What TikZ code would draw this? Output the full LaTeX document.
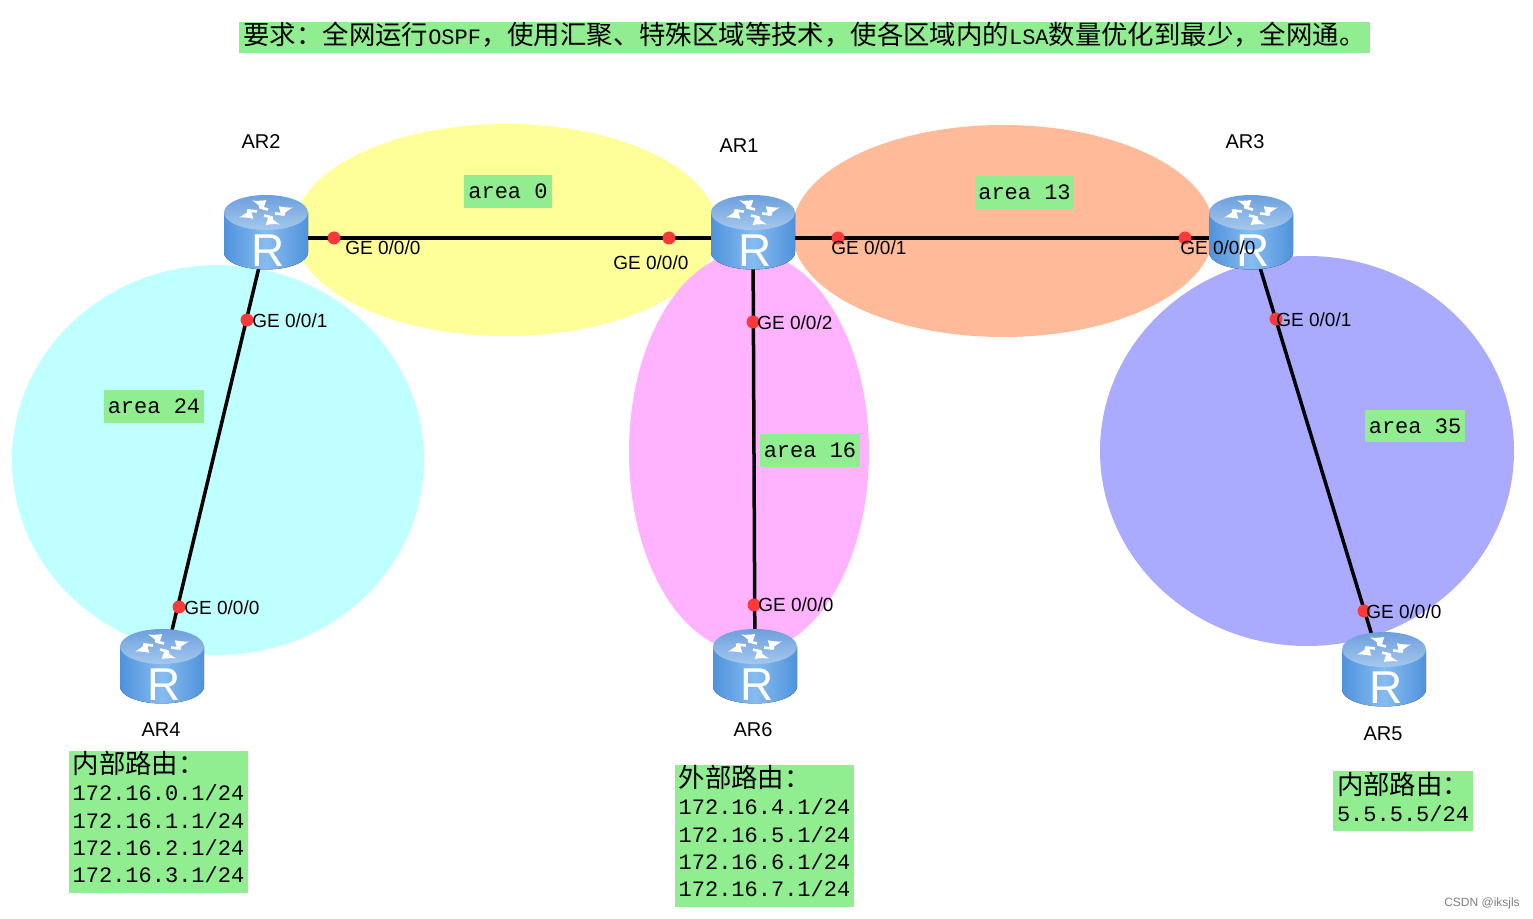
\documentclass[tikz,border=0pt]{standalone}
\usepackage{fontspec}
\setmainfont{Liberation Sans}
\newfontfamily\cnfont{Noto Sans CJK SC}
\newfontfamily\codefont{Liberation Mono}
\newcommand{\cntext}[1]{{\cnfont\fontsize{13.2}{15}\selectfont #1}}
\tikzset{
    routerbox/.style={minimum width=42pt,minimum height=38pt,inner sep=0pt},
    linkline/.style={black,line width=1.75pt},
    reddot/.style={circle,fill=dotred,minimum size=6.5pt,inner sep=0pt},
    portlabel/.style={font=\fontsize{9.5}{11}\selectfont,inner sep=0pt,anchor=west},
    routername/.style={font=\fontsize{10}{12}\selectfont,inner sep=0pt},
    notebox/.style={fill=notegreen,inner sep=0pt,font=\fontsize{11}{13.6}\selectfont\codefont},
    iconarrow/.style={white,line width=1.3pt,line join=round,-latex}
}
\definecolor{notegreen}{HTML}{90EE90}
\definecolor{areayellow}{HTML}{FFFF99}
\definecolor{areaorange}{HTML}{FFBB99}
\definecolor{areacyan}{HTML}{C0FFFF}
\definecolor{areapink}{HTML}{FFB3FF}
\definecolor{areapurple}{HTML}{AAAAFF}
\definecolor{dotred}{HTML}{F93A3A}
\definecolor{bodyblue}{HTML}{4F92DC}
\definecolor{bodylight}{HTML}{86BCF0}
\definecolor{topdark}{HTML}{6C9FDC}
\definecolor{toplight}{HTML}{A5C8EE}
\begin{document}
\begin{tikzpicture}[x=0.5pt,y=-0.5pt]
    \useasboundingbox (0,0) rectangle (1533,919);

    % Draw the areas
    \fill[areayellow] (506,230) ellipse (212 and 106);
    \fill[areaorange] (1003,231) ellipse (211 and 106);
    \fill[areacyan] (218,460) ellipse (206 and 195);
    \fill[areapink] (749,452) ellipse (120 and 200);
    \fill[areapurple] (1307,451) ellipse (207 and 195);

    % Router positions
    \node[routerbox] (ar2) at (266,238) {};
    \node[routerbox] (ar1) at (753,238) {};
    \node[routerbox] (ar3) at (1251,238) {};
    \node[routerbox] (ar4) at (162,672) {};
    \node[routerbox] (ar6) at (755,672) {};
    \node[routerbox] (ar5) at (1384,675) {};

    % Links
    \draw[linkline] (ar2.center) -- (ar1.center);
    \draw[linkline] (ar1.center) -- (ar3.center);
    \draw[linkline] (ar2.center) -- (ar4.center);
    \draw[linkline] (ar1.center) -- (ar6.center);
    \draw[linkline] (ar3.center) -- (ar5.center);

    % Router icons
    \foreach \name in {ar1,ar2,ar3,ar4,ar5,ar6}
    {
        \begin{scope}[shift={(\name.center)},yshift=2.75pt]
            \fill[left color=bodyblue,right color=bodyblue,middle color=bodylight]
                (-42,-20) -- (-42,20) arc[start angle=180,end angle=0,x radius=42,y radius=17] -- (42,-20) -- cycle;
            \shade[top color=topdark,bottom color=toplight] (0,-20) ellipse (42 and 17.5);
            \begin{scope}[shift={(0,-20)}]
                \foreach \ang in {0,180}
                {
                    \draw[iconarrow,rotate=\ang] (2,-3) -- (-6,-5) -- (-5,-9) -- (-14,-12);
                    \draw[iconarrow,rotate=\ang] (-9,-1) -- (-18,-2) -- (-16,2) -- (-27,5);
                }
            \end{scope}
            \node[white,inner sep=0pt,font=\fontsize{23}{23}\selectfont] (\name-r) at (2,18) {R};
        \end{scope}
    }

    % Red points on the links
    \node[reddot] (p1) at (334,238) {};
    \node[reddot] (p2) at (669,238) {};
    \node[reddot] (p3) at (838,238) {};
    \node[reddot] (p4) at (1185,238) {};
    \node[reddot] (p5) at (247,320) {};
    \node[reddot] (p6) at (179,607) {};
    \node[reddot] (p7) at (753,322) {};
    \node[reddot] (p8) at (754,605) {};
    \node[reddot] (p9) at (1276,319) {};
    \node[reddot] (p10) at (1364,611) {};

    % Port labels
    \node[portlabel] (l1) at (345,248) {GE 0/0/0};
    \node[portlabel] (l2) at (613,263) {GE 0/0/0};
    \node[portlabel] (l3) at (831,248) {GE 0/0/1};
    \node[portlabel] (l4) at (1180,248) {GE 0/0/0};
    \node[portlabel] (l5) at (252,321) {GE 0/0/1};
    \node[portlabel] (l6) at (184,608) {GE 0/0/0};
    \node[portlabel] (l7) at (757,323) {GE 0/0/2};
    \node[portlabel] (l8) at (758,605) {GE 0/0/0};
    \node[portlabel] (l9) at (1276,320) {GE 0/0/1};
    \node[portlabel] (l10) at (1366,612) {GE 0/0/0};

    % Router names
    \node[routername] (n2) at (261,142) {AR2};
    \node[routername] (n1) at (739,146) {AR1};
    \node[routername] (n3) at (1245,142) {AR3};
    \node[routername] (n4) at (161,730) {AR4};
    \node[routername] (n6) at (753,730) {AR6};
    \node[routername] (n5) at (1383,734) {AR5};

    % Area labels
    \node[notebox,minimum width=44pt,minimum height=16.5pt] (a0) at (508,191.5) {area 0};
    \node[notebox,minimum width=49.5pt,minimum height=16.5pt] (a13) at (1024.5,192.5) {area 13};
    \node[notebox,minimum width=50pt,minimum height=16.5pt] (a24) at (154,406.5) {area 24};
    \node[notebox,minimum width=50pt,minimum height=16.5pt] (a16) at (810,450.5) {area 16};
    \node[notebox,minimum width=50pt,minimum height=16pt] (a35) at (1415,426) {area 35};

    % Requirement line and route lists
    \node[notebox,minimum width=565.5pt,minimum height=15.5pt,text depth=4pt] (req) at (804.5,37.5)
        {\cntext{要求^^^^ff1a全网运行}OSPF\cntext{^^^^ff0c使用汇聚、特殊区域等技术^^^^ff0c使各区域内的}LSA\cntext{数量优化到最少^^^^ff0c全网通。}};
    \node[notebox,minimum width=89.5pt,minimum height=70pt,align=left,text depth=5pt] (r4) at (158.5,822)
        {\cntext{内部路由^^^^ff1a}\\172.16.0.1/24\\172.16.1.1/24\\172.16.2.1/24\\172.16.3.1/24};
    \node[notebox,minimum width=89.5pt,minimum height=70pt,align=left,text depth=5pt] (r6) at (764.5,836)
        {\cntext{外部路由^^^^ff1a}\\172.16.4.1/24\\172.16.5.1/24\\172.16.6.1/24\\172.16.7.1/24};
    \node[notebox,minimum width=70pt,minimum height=30pt,align=left,text depth=4pt] (r5) at (1403,801)
        {\cntext{内部路由^^^^ff1a}\\5.5.5.5/24};

    % Watermark
    \node[inner sep=0pt,gray,font=\fontsize{6}{7}\selectfont] (mark) at (1482,903) {CSDN @iksjls};
\end{tikzpicture}
\end{document}
